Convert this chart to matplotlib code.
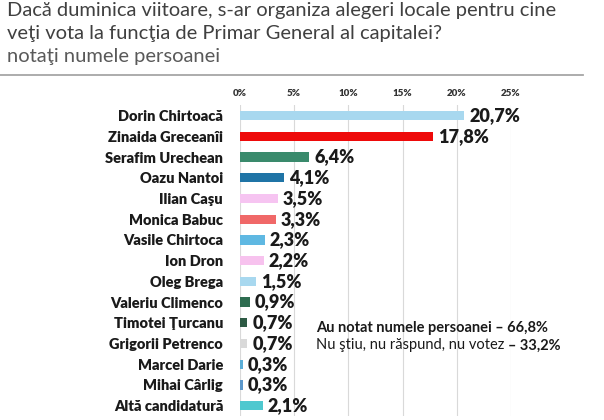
import matplotlib
matplotlib.use("Agg")
import matplotlib.pyplot as plt
from matplotlib.lines import Line2D

plt.rcParams['font.family'] = ['Lato', 'DejaVu Sans']

# date
candidati = ['Dorin Chirtoacă', 'Zinaida Greceanîi', 'Serafim Urechean', 'Oazu Nantoi',
             'Ilian Caşu', 'Monica Babuc', 'Vasile Chirtoca', 'Ion Dron', 'Oleg Brega',
             'Valeriu Climenco', 'Timotei Ţurcanu', 'Grigorii Petrenco', 'Marcel Darie',
             'Mihai Cârlig', 'Altă candidatură']
procente = [20.7, 17.8, 6.4, 4.1, 3.5, 3.3, 2.3, 2.2, 1.5, 0.9, 0.7, 0.7, 0.3, 0.3, 2.1]
culori = ['#a8d8ef', '#ee0a0a', '#3a8a6c', '#1f74a6', '#f6c4f1', '#f06868', '#5fb8e2',
          '#f7c2ee', '#a8d8ef', '#2e6c50', '#2d5a44', '#d9d9d9', '#5aaed8', '#5b98cc',
          '#4ec8cf']
ticks_x = [0, 5, 10, 15, 20, 25]

fig = plt.figure(figsize=(6.04, 4.2), dpi=100)

# titlu
fig.text(0.012, 0.995, 'Dacă duminica viitoare, s-ar organiza alegeri locale pentru cine',
         fontsize=14.5, color='#404040', va='top', ha='left')
fig.text(0.012, 0.94, 'veţi vota la funcţia de Primar General al capitalei?',
         fontsize=14.5, color='#404040', va='top', ha='left')
fig.text(0.012, 0.885, 'notaţi numele persoanei',
         fontsize=14.5, color='#595959', va='top', ha='left')
fig.add_artist(Line2D([0.0, 0.965], [0.822, 0.822], color='#a6a6a6', lw=1.3))

ax = fig.add_axes([0.397, 0.0095, 0.449, 0.74])
y = list(range(len(candidati)))
ax.barh(y, procente, height=0.45, color=culori, zorder=2)
ax.set_ylim(len(candidati) - 0.5, -0.5)
ax.set_xlim(0, 25)

ax.set_yticks(y)
ax.set_yticklabels(candidati, fontsize=10.5, fontweight='heavy', color='#1a1a1a')
ax.tick_params(axis='y', length=0, pad=12)

ax.xaxis.tick_top()
ax.set_xticks(ticks_x)
ax.set_xticklabels([f'{t}%' for t in ticks_x], fontsize=7, fontweight='heavy', color='#333333')
ax.tick_params(axis='x', length=0, pad=5)
ax.grid(axis='x', color='#d9d9d9', lw=0.8, zorder=0)
for s in ax.spines.values():
    s.set_visible(False)

for yi, v in zip(y, procente):
    ax.text(v + 0.45, yi, f'{v:.1f}%'.replace('.', ','), va='center', ha='left',
            fontsize=13, fontweight='heavy', color='#1a1a1a', clip_on=False)

# nota
fig.text(0.523, 0.218, 'Au notat numele persoanei – 66,8%', fontsize=10.5,
         fontweight='bold', color='#1a1a1a', va='center', ha='left')
t1 = fig.text(0.523, 0.168, 'Nu ştiu, nu răspund, nu votez ', fontsize=10.5,
              color='#1a1a1a', va='baseline', ha='left')
ax.annotate('– 33,2%', xy=(1, 0), xycoords=t1, xytext=(0, 0), textcoords='offset points',
            va='bottom', ha='left', fontsize=10.5, fontweight='bold', color='#1a1a1a',
            annotation_clip=False)

fig.savefig('out.png', dpi=100)
